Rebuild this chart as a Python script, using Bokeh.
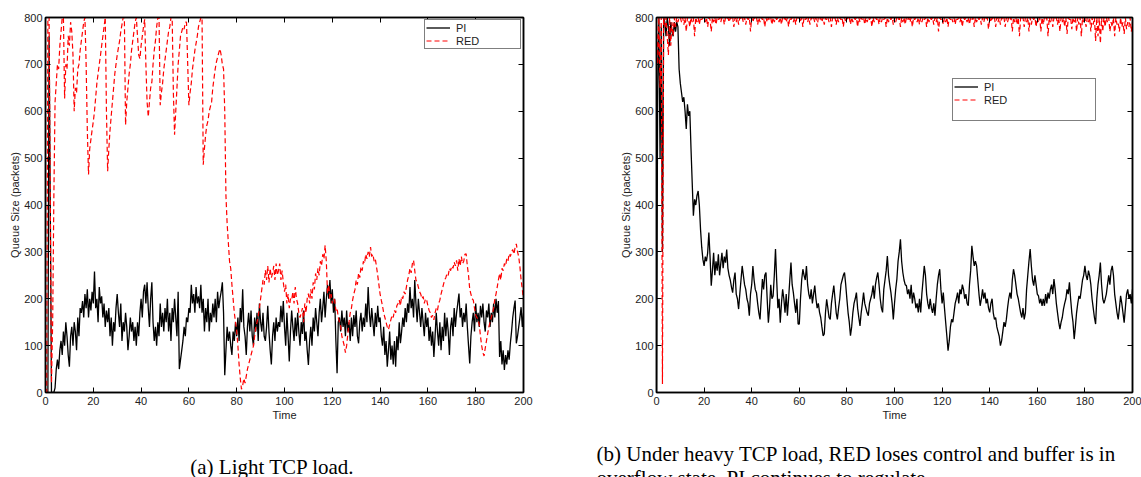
from bokeh.plotting import figure
from bokeh.models import (Range1d, LinearAxis, FixedTicker, Legend, LegendItem,
                          ColumnDataSource)
from bokeh.layouts import row, column
from bokeh.embed import file_html
from bokeh.resources import INLINE
from bokeh.core.properties import value

# ---------------- data (sample every 0.5 s) ----------------
time_a = [i * 0.5 for i in range(401)]
time_b = [i * 0.5 for i in range(401)]

pi_light = [
    0, 0, 0, 760, 400, 0, 0, 0, 10, 50, 70, 50, 90, 110, 80, 130, 100, 150, 120, 80,
    55, 120, 140, 100, 150, 130, 90, 160, 120, 180, 170, 195, 160, 210, 180, 220, 160, 200, 175, 215,
    190, 258, 180, 200, 150, 225, 190, 205, 160, 190, 140, 175, 150, 180, 120, 160, 100, 150, 130, 180,
    210, 170, 140, 190, 110, 150, 130, 170, 140, 90, 120, 160, 130, 150, 110, 140, 100, 150, 120, 170,
    200, 160, 215, 230, 190, 235, 180, 140, 200, 235, 150, 110, 140, 100, 150, 120, 190, 140, 170, 130,
    180, 150, 200, 130, 170, 110, 180, 150, 200, 160, 120, 215, 50, 70, 90, 110, 140, 120, 160, 150,
    180, 170, 230, 190, 210, 170, 225, 190, 205, 180, 230, 170, 200, 130, 180, 150, 200, 130, 170, 150,
    190, 160, 200, 150, 215, 180, 200, 215, 235, 170, 37, 90, 140, 110, 130, 100, 80, 130, 110, 150,
    120, 160, 110, 180, 150, 220, 140, 120, 80, 140, 170, 130, 175, 120, 100, 160, 130, 170, 110, 190,
    150, 130, 170, 120, 110, 140, 185, 130, 90, 60, 120, 150, 110, 160, 130, 150, 140, 185, 150, 195,
    140, 100, 170, 120, 66, 130, 175, 140, 110, 160, 120, 170, 130, 100, 150, 125, 175, 110, 130, 90,
    59, 110, 140, 100, 160, 130, 180, 150, 120, 170, 200, 150, 180, 215, 160, 200, 230, 200, 240, 190,
    220, 170, 200, 110, 41, 150, 160, 130, 175, 140, 160, 120, 175, 130, 150, 110, 160, 120, 165, 140,
    175, 120, 105, 150, 170, 130, 160, 140, 190, 150, 225, 170, 140, 180, 150, 120, 170, 140, 185, 150,
    160, 120, 100, 140, 80, 110, 55, 90, 130, 70, 100, 60, 110, 55, 120, 90, 150, 105, 130, 160,
    140, 180, 150, 190, 170, 225, 180, 200, 160, 240, 190, 150, 200, 170, 140, 180, 150, 120, 170, 140,
    160, 110, 140, 100, 130, 76, 120, 170, 130, 100, 150, 90, 140, 110, 170, 120, 160, 130, 80, 140,
    160, 120, 180, 140, 170, 190, 211, 160, 180, 140, 170, 150, 190, 140, 100, 62, 120, 150, 170, 130,
    190, 150, 170, 140, 185, 160, 190, 150, 130, 175, 160, 190, 140, 170, 150, 190, 160, 200, 170, 195,
    76, 110, 60, 90, 48, 80, 60, 90, 70, 105, 130, 160, 180, 196, 105, 120, 140, 160, 182, 140,
    170,
]

red_light = [
    0, 0, 800, 800, 400, 20, 150, 420, 620, 660, 700, 690, 740, 770, 800, 800, 627, 700, 690, 761,
    740, 790, 770, 720, 600, 650, 640, 690, 700, 730, 750, 770, 790, 800, 700, 560, 465, 520, 540, 560,
    578, 600, 630, 660, 680, 700, 719, 740, 760, 780, 800, 600, 472, 520, 560, 590, 620, 650, 680, 700,
    720, 735, 750, 770, 785, 800, 800, 571, 620, 650, 680, 700, 730, 750, 770, 790, 800, 760, 720, 712,
    740, 760, 780, 796, 700, 620, 588, 620, 650, 662, 700, 730, 750, 780, 800, 800, 613, 640, 660, 690,
    710, 730, 750, 770, 780, 800, 800, 640, 550, 600, 650, 700, 730, 761, 770, 780, 775, 790, 790, 700,
    613, 640, 660, 690, 710, 730, 745, 760, 780, 790, 800, 800, 486, 520, 550, 570, 580, 600, 610, 620,
    650, 670, 690, 705, 715, 725, 733, 720, 700, 690, 600, 420, 360, 320, 280, 265, 230, 200, 170, 150,
    130, 100, 60, 30, 7, 15, 30, 20, 35, 50, 60, 70, 80, 90, 99, 120, 140, 150, 162, 180,
    200, 220, 240, 230, 261, 240, 270, 235, 265, 245, 254, 270, 240, 275, 250, 260, 275, 240, 260, 235,
    215, 230, 190, 210, 180, 200, 197, 215, 190, 225, 200, 190, 170, 160, 169, 180, 150, 190, 170, 200,
    211, 190, 220, 200, 235, 220, 254, 240, 265, 250, 280, 270, 295, 285, 314, 280, 211, 230, 200, 210,
    190, 200, 197, 175, 180, 160, 150, 141, 120, 110, 100, 85, 100, 125, 150, 170, 180, 197, 210, 220,
    240, 230, 255, 245, 268, 260, 280, 275, 295, 285, 300, 290, 310, 290, 295, 280, 285, 268, 250, 230,
    210, 197, 185, 170, 160, 150, 140, 134, 145, 155, 165, 160, 175, 170, 185, 190, 197, 185, 205, 200,
    215, 210, 225, 240, 250, 265, 255, 275, 282, 260, 240, 235, 225, 215, 210, 200, 205, 190, 200, 197,
    185, 175, 170, 160, 165, 155, 170, 180, 175, 190, 197, 210, 220, 230, 240, 245, 254, 250, 265, 260,
    270, 265, 278, 270, 282, 260, 285, 270, 290, 275, 280, 295, 296, 270, 250, 220, 210, 200, 197, 180,
    165, 160, 155, 145, 120, 100, 85, 78, 95, 110, 125, 140, 150, 160, 169, 180, 200, 210, 225, 240,
    254, 240, 265, 260, 275, 270, 285, 280, 296, 290, 300, 305, 295, 310, 317, 300, 290, 268, 240, 220,
    197,
]

pi_heavy = [
    0, 650, 800, 500, 780, 300, 800, 790, 760, 800, 780, 740, 790, 770, 760, 790, 770, 790, 780, 690,
    660, 640, 620, 630, 600, 562, 615, 590, 600, 520, 448, 377, 412, 400, 420, 430, 400, 348, 310, 284,
    270, 290, 280, 298, 341, 290, 228, 260, 298, 250, 280, 260, 295, 250, 275, 298, 265, 290, 277, 305,
    265, 250, 240, 225, 213, 240, 256, 210, 200, 178, 210, 240, 270, 250, 230, 220, 200, 190, 164, 210,
    230, 270, 240, 220, 213, 190, 170, 156, 200, 242, 220, 250, 256, 200, 149, 180, 230, 200, 206, 250,
    306, 240, 180, 200, 149, 190, 220, 200, 170, 210, 164, 200, 240, 277, 230, 213, 190, 170, 200, 146,
    146, 200, 240, 263, 250, 240, 270, 230, 210, 199, 220, 190, 210, 228, 200, 180, 190, 171, 160, 140,
    121, 125, 170, 199, 180, 160, 156, 190, 210, 228, 200, 170, 156, 180, 200, 230, 240, 250, 256, 230,
    199, 170, 150, 121, 140, 170, 190, 200, 213, 180, 160, 142, 170, 190, 213, 190, 180, 170, 164, 190,
    200, 210, 228, 200, 230, 245, 256, 230, 200, 180, 171, 220, 240, 260, 291, 250, 230, 213, 190, 156,
    190, 220, 242, 280, 300, 327, 280, 256, 240, 230, 228, 210, 220, 200, 230, 190, 213, 200, 180, 190,
    171, 200, 171, 210, 240, 270, 250, 210, 190, 178, 200, 180, 170, 190, 164, 200, 230, 250, 263, 220,
    190, 213, 180, 150, 120, 89, 110, 140, 156, 150, 170, 190, 200, 213, 190, 220, 210, 230, 220, 200,
    210, 190, 185, 230, 260, 313, 290, 270, 280, 270, 240, 210, 185, 200, 220, 200, 213, 190, 200, 180,
    171, 190, 200, 170, 156, 160, 140, 130, 120, 100, 110, 130, 150, 140, 156, 180, 200, 213, 200, 240,
    263, 250, 230, 210, 200, 185, 170, 160, 180, 156, 170, 220, 250, 280, 306, 270, 240, 228, 250, 230,
    210, 206, 190, 200, 185, 200, 185, 210, 190, 213, 200, 220, 230, 210, 242, 220, 190, 170, 150, 135,
    150, 160, 178, 190, 200, 220, 210, 235, 200, 170, 150, 114, 140, 170, 190, 206, 200, 220, 240, 250,
    270, 250, 240, 260, 249, 230, 200, 180, 160, 146, 200, 230, 250, 277, 230, 200, 190, 199, 210, 230,
    250, 230, 260, 270, 250, 210, 190, 170, 156, 180, 206, 190, 170, 149, 180, 210, 220, 200, 210, 190,
    220,
]

red_heavy = [
    800, 700, 800, 650, 800, 18, 800, 780, 800, 760, 720, 800, 740, 790, 760, 800, 780, 800, 790, 800,
    800, 790, 800, 785, 800, 770, 800, 795, 780, 800, 790, 800, 760, 800, 790, 800, 785, 800, 795, 800,
    800, 790, 800, 780, 800, 795, 770, 800, 790, 800, 785, 800, 795, 800, 790, 800, 800, 785, 800, 795,
    800, 790, 800, 795, 800, 780, 800, 790, 800, 785, 800, 795, 800, 790, 800, 785, 800, 795, 800, 770,
    800, 790, 800, 795, 800, 785, 800, 790, 800, 795, 800, 780, 800, 790, 800, 795, 800, 785, 800, 790,
    800, 795, 800, 790, 800, 785, 800, 795, 800, 790, 800, 780, 800, 795, 800, 790, 800, 785, 800, 795,
    800, 790, 800, 780, 800, 795, 800, 790, 800, 785, 800, 795, 800, 790, 800, 780, 800, 795, 800, 790,
    800, 785, 800, 795, 800, 790, 800, 780, 800, 795, 800, 785, 800, 790, 800, 795, 800, 780, 800, 790,
    800, 795, 800, 785, 800, 790, 800, 795, 800, 780, 800, 790, 800, 795, 800, 785, 800, 790, 800, 795,
    800, 780, 800, 790, 800, 795, 800, 785, 800, 790, 800, 795, 800, 780, 800, 790, 800, 795, 800, 785,
    800, 790, 800, 795, 800, 780, 800, 790, 800, 785, 800, 795, 800, 790, 800, 780, 800, 795, 800, 790,
    800, 785, 800, 790, 800, 795, 800, 780, 800, 790, 800, 795, 800, 785, 800, 790, 800, 770, 800, 795,
    800, 785, 800, 790, 800, 780, 800, 795, 800, 790, 800, 785, 800, 795, 800, 790, 800, 780, 800, 795,
    800, 790, 800, 785, 800, 795, 800, 780, 800, 790, 800, 795, 800, 785, 800, 790, 800, 795, 800, 775,
    800, 790, 800, 795, 800, 780, 800, 790, 800, 785, 800, 795, 800, 780, 800, 790, 800, 795, 800, 770,
    800, 790, 800, 785, 800, 760, 800, 795, 800, 780, 800, 790, 800, 770, 800, 785, 800, 795, 800, 780,
    800, 790, 800, 770, 800, 785, 800, 795, 800, 760, 800, 790, 800, 780, 800, 795, 800, 785, 800, 770,
    800, 790, 800, 780, 800, 765, 800, 795, 800, 775, 800, 790, 800, 770, 800, 785, 800, 760, 800, 790,
    800, 780, 800, 790, 800, 770, 800, 785, 800, 750, 800, 760, 800, 745, 800, 770, 800, 780, 800, 790,
    800, 770, 790, 780, 800, 760, 800, 785, 790, 770, 800, 780, 790, 765, 800, 775, 790, 780, 800, 770,
    790,
]

x_ticks = [0, 20, 40, 60, 80, 100, 120, 140, 160, 180, 200]
y_ticks = [0, 100, 200, 300, 400, 500, 600, 700, 800]
series_names = ["PI", "RED"]
x_label = "Time"
y_label = "Queue Size (packets)"
captions = ["(a) Light TCP load.",
            "(b) Under heavy TCP load, RED loses control and buffer is in",
            "overflow state. PI continues to regulate."]

SANS = "Liberation Sans"
SERIF = "Liberation Serif"
FIG_H = 428
CAP_H = 49


def style_axis(ax, labels=True):
    ax.major_tick_in = 5
    ax.major_tick_out = 0
    ax.minor_tick_line_color = None
    ax.axis_line_width = 1.5
    ax.axis_line_color = "black"
    ax.major_tick_line_color = "black"
    ax.major_tick_line_width = 1
    ax.major_label_text_font = SANS
    ax.axis_label_text_font = SANS
    ax.axis_label_text_font_style = "normal"
    ax.axis_label_text_font_size = "11px"
    ax.axis_label_text_color = "#222222"
    if labels:
        ax.major_label_text_font_size = "11px"
        ax.major_label_text_color = "#222222"
    else:
        ax.major_label_text_font_size = "1px"
        ax.major_label_text_color = None
        ax.major_label_standoff = 0


def make_fig(width, mbl, mbr, mbt):
    p = figure(width=width, height=FIG_H, output_backend="svg", toolbar_location=None,
               x_range=Range1d(0, 200), y_range=Range1d(0, 800),
               min_border_left=mbl, min_border_right=mbr,
               min_border_top=mbt, min_border_bottom=FIG_H - 392,
               x_axis_label=x_label, y_axis_label=y_label)
    p.xgrid.visible = False
    p.ygrid.visible = False
    p.outline_line_color = "black"
    p.outline_line_width = 1.5
    p.xaxis.ticker = FixedTicker(ticks=x_ticks)
    p.yaxis.ticker = FixedTicker(ticks=y_ticks)
    for ax in p.xaxis:
        style_axis(ax)
        ax.major_label_standoff = 4
        ax.axis_label_standoff = 1
    for ax in p.yaxis:
        style_axis(ax)
        ax.major_label_standoff = 3
        ax.axis_label_standoff = 0
    top = LinearAxis(ticker=FixedTicker(ticks=x_ticks))
    style_axis(top, labels=False)
    p.add_layout(top, "above")
    right = LinearAxis(ticker=FixedTicker(ticks=y_ticks))
    style_axis(right, labels=False)
    p.add_layout(right, "right")
    return p


def add_legend(p, items, loc, label_width):
    leg = Legend(items=items, location=loc, padding=1, spacing=0, margin=0,
                 label_height=13, glyph_height=13, glyph_width=24,
                 label_standoff=6, label_width=label_width,
                 border_line_color="black", border_line_width=1.5,
                 background_fill_color="white", background_fill_alpha=1,
                 label_text_font=SANS, label_text_font_size="11px",
                 label_text_color="#222222")
    p.add_layout(leg)


PI_STYLE = dict(line_color="black", line_width=1.3)
RED_STYLE = dict(line_color="#ff0000", line_width=1.2, line_dash="5 3")

# ---------------- panel (a) ----------------
p1 = make_fig(600, 45, 77, 15)
src_a = ColumnDataSource(dict(t=time_a, pi=pi_light, red=red_light))
r1 = p1.line("t", "pi", source=src_a, **PI_STYLE)
r2 = p1.line("t", "red", source=src_a, **RED_STYLE)
add_legend(p1, [LegendItem(label=series_names[0], renderers=[r1]),
                LegendItem(label=series_names[1], renderers=[r2])], (379, 343), 63)

# ---------------- panel (b) ----------------
p2 = make_fig(541, 56, 9, 17)
src_b = ColumnDataSource(dict(t=time_b, pi=pi_heavy, red=red_heavy))
q1 = p2.line("t", "pi", source=src_b, **PI_STYLE)
q2 = p2.line("t", "red", source=src_b, **RED_STYLE)
dummy = p2.line(x=[], y=[], line_alpha=0)
add_legend(p2, [LegendItem(label=series_names[0], renderers=[q1]),
                LegendItem(label=series_names[1], renderers=[q2]),
                LegendItem(label=" ", renderers=[dummy])], (296, 271), 110)

# ---------------- captions strip ----------------
cap = figure(width=1141, height=CAP_H, output_backend="svg", toolbar_location=None,
             x_range=Range1d(0, 1141), y_range=Range1d(CAP_H, 0),
             x_axis_type=None, y_axis_type=None, min_border=0,
             min_border_left=0, min_border_right=0, min_border_top=0, min_border_bottom=0)
cap.xgrid.visible = False
cap.ygrid.visible = False
cap.outline_line_color = None
cap_src = ColumnDataSource(dict(x=[272], y=[466 - FIG_H], text=[captions[0]]))
cap.text("x", "y", text="text", source=cap_src, text_align="center",
         text_baseline="alphabetic", text_font=value(SERIF), text_font_size="21px",
         text_color="black")
cap_src2 = ColumnDataSource(dict(x=[596, 596], y=[453 - FIG_H, 477 - FIG_H],
                                 text=[captions[1], captions[2]]))
cap.text("x", "y", text="text", source=cap_src2, text_align="left",
         text_baseline="alphabetic", text_font=value(SERIF), text_font_size="21px",
         text_color="black")

layout = column(row(p1, p2), cap)
open("out.html", "w").write(file_html(layout, INLINE))
